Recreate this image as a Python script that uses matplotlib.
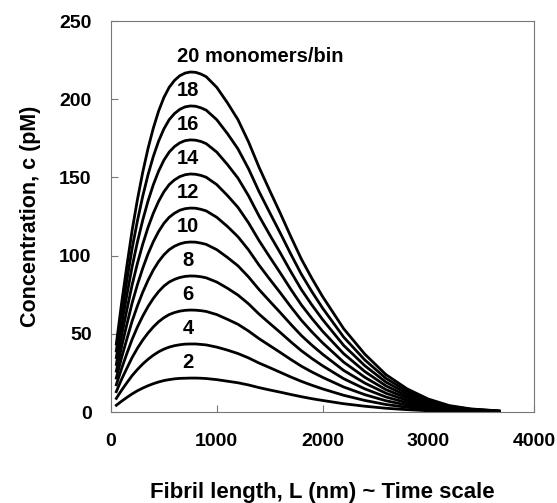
import numpy as np
import matplotlib
matplotlib.use("Agg")
import matplotlib.pyplot as plt

plt.rcParams['font.family'] = ['Liberation Sans', 'DejaVu Sans']
plt.rcParams['font.weight'] = 'bold'

# fibril length (nm)
length_nm = [50, 75, 100, 150, 200, 250, 300, 350, 400, 450, 500, 550, 600,
             650, 700, 750, 800, 850, 900, 1000, 1100, 1200, 1300, 1400,
             1500, 1600, 1700, 1800, 1900, 2000, 2200, 2400, 2600, 2800,
             3000, 3200, 3400, 3670]

# concentration (pM) per monomers/bin
conc = {
    2: [4.3, 5.6, 6.9, 9.3, 11.6, 13.6, 15.3, 16.8, 18.1, 19.2, 20.1, 20.7, 21.2,
        21.5, 21.6, 21.7, 21.7, 21.6, 21.4, 20.7, 19.7, 18.7, 17.3, 15.6,
        14.1, 12.7, 11.2, 9.8, 8.5, 7.4, 5.3, 3.7, 2.4, 1.5, 0.8, 0.4, 0.2, 0.1],
    4: [8.7, 11.3, 13.9, 18.7, 23.3, 27.2, 30.7, 33.7, 36.3, 38.5, 40.2, 41.5, 42.4,
        43.0, 43.4, 43.5, 43.5, 43.2, 42.9, 41.5, 39.6, 37.4, 34.6, 31.3,
        28.4, 25.4, 22.4, 19.6, 17.1, 14.8, 10.7, 7.4, 4.8, 3.0, 1.7, 0.8, 0.4, 0.1],
    6: [13.0, 17.0, 20.9, 28.0, 34.9, 40.8, 46.0, 50.5, 54.4, 57.7, 60.3, 62.3, 63.6,
        64.5, 65.0, 65.2, 65.1, 64.8, 64.3, 62.3, 59.3, 56.1, 51.8, 46.9,
        42.5, 38.1, 33.6, 29.3, 25.6, 22.2, 16.0, 11.1, 7.2, 4.4, 2.5, 1.2, 0.6, 0.2],
    8: [17.4, 22.6, 27.8, 37.4, 46.5, 54.4, 61.3, 67.4, 72.6, 77.0, 80.5, 83.1, 84.8,
        86.0, 86.7, 87.0, 86.9, 86.5, 85.8, 83.1, 79.2, 74.8, 69.2, 62.6,
        56.7, 50.9, 44.9, 39.2, 34.2, 29.6, 21.3, 14.8, 9.6, 5.9, 3.3, 1.7, 0.8, 0.3],
    10: [21.7, 28.3, 34.8, 46.7, 58.2, 67.9, 76.6, 84.2, 90.8, 96.2, 100.5, 103.8, 106.0,
         107.5, 108.4, 108.7, 108.6, 108.0, 107.2, 103.8, 98.9, 93.5, 86.4, 78.3,
         70.9, 63.6, 56.1, 48.9, 42.7, 37.0, 26.6, 18.5, 12.0, 7.4, 4.1, 2.1, 1.0, 0.3],
    12: [26.1, 33.9, 41.7, 56.1, 69.8, 81.5, 91.9, 101.1, 108.9, 115.4, 120.6, 124.5, 127.1,
         129.0, 130.0, 130.4, 130.3, 129.6, 128.6, 124.5, 118.7, 112.1, 103.7, 93.9,
         85.0, 76.3, 67.3, 58.7, 51.2, 44.3, 31.9, 22.2, 14.3, 8.9, 5.0, 2.5, 1.2, 0.4],
    14: [30.4, 39.6, 48.7, 65.4, 81.4, 95.1, 107.3, 118.0, 127.1, 134.7, 140.8, 145.4, 148.4,
         150.5, 151.7, 152.2, 152.0, 151.3, 150.1, 145.4, 138.5, 130.9, 121.0, 109.6,
         99.2, 89.0, 78.5, 68.5, 59.8, 51.7, 37.3, 25.9, 16.7, 10.3, 5.8, 2.9, 1.4, 0.5],
    16: [34.8, 45.2, 55.7, 74.8, 93.1, 108.8, 122.7, 134.9, 145.3, 154.0, 161.0, 166.2, 169.7,
         172.1, 173.5, 174.0, 173.8, 173.0, 171.6, 166.2, 158.3, 149.6, 138.3, 125.3,
         113.4, 101.8, 89.8, 78.3, 68.4, 59.2, 42.6, 29.6, 19.1, 11.8, 6.6, 3.3, 1.6, 0.5],
    18: [39.1, 50.9, 62.6, 84.2, 104.7, 122.3, 138.0, 151.7, 163.4, 173.2, 181.0, 186.9, 190.8,
         193.5, 195.1, 195.7, 195.5, 194.5, 193.0, 186.9, 178.1, 168.3, 155.6, 140.9,
         127.6, 114.5, 101.0, 88.1, 76.9, 66.5, 47.9, 33.3, 21.5, 13.3, 7.4, 3.7, 1.8, 0.6],
    20: [43.5, 56.5, 69.6, 93.5, 116.3, 135.9, 153.3, 168.5, 181.5, 192.4, 201.1, 207.6, 212.0,
         215.0, 216.7, 217.4, 217.2, 216.1, 214.4, 207.6, 197.8, 187.0, 172.8, 156.5,
         141.7, 127.2, 112.2, 97.8, 85.4, 73.9, 53.3, 37.0, 23.9, 14.8, 8.3, 4.1, 2.0, 0.7],
}

xticks = [0, 1000, 2000, 3000, 4000]
yticks = [0, 50, 100, 150, 200, 250]

fig = plt.figure(figsize=(5.57, 5.03), dpi=100)
ax = fig.add_axes([0.1993, 0.1809, 0.7594, 0.7773])

for n, vals in conc.items():
    ax.plot(length_nm, vals, color='black', lw=2.0, solid_joinstyle='round')
    ymax = max(vals)
    xpk = length_nm[int(np.argmax(vals))]
    if n == 20:
        ax.text(xpk - 130, ymax + 10, '20 monomers/bin', ha='left', va='center',
                fontsize=14.5, fontweight='bold')
    else:
        ax.text(xpk - 22, ymax + 10, str(n), ha='center', va='center',
                fontsize=14.5, fontweight='bold')

ax.set_xlim(0, 4000)
ax.set_ylim(0, 250)
ax.set_xticks(xticks)
ax.set_yticks(yticks)
ax.tick_params(direction='in', length=5, width=0.8, color='#777777',
               labelsize=14)
ax.tick_params(axis='y', pad=14)
ax.tick_params(axis='x', pad=15)
for lab in ax.get_xticklabels() + ax.get_yticklabels():
    lab.set_fontweight('bold')
for sp in ax.spines.values():
    sp.set_color('#777777')
    sp.set_linewidth(0.8)

ax.set_xlabel('Fibril length, L (nm) ~ Time scale', fontsize=16,
              fontweight='bold', labelpad=23)
ax.set_ylabel('Concentration, c (pM)', fontsize=15.5, fontweight='bold',
              labelpad=13)

fig.savefig('out.png', dpi=100)
